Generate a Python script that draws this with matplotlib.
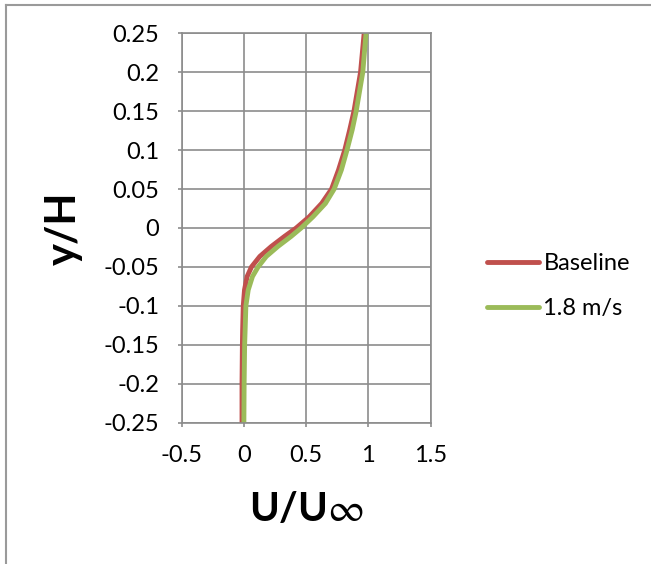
import numpy as np
import matplotlib.pyplot as plt

plt.rcParams['font.family'] = ['Lato', 'DejaVu Sans']
plt.rcParams['mathtext.fontset'] = 'custom'
plt.rcParams['mathtext.rm'] = 'STIXGeneral'
plt.rcParams['mathtext.bf'] = 'Lato:bold'

# velocity profiles
y_base = [-0.25, -0.2, -0.15, -0.131, -0.1, -0.0795, -0.0623, -0.05, -0.0365, -0.0236, -0.0107, 0.0,
          0.0144, 0.0316, 0.05, 0.0745, 0.1, 0.126, 0.15, 0.2, 0.25]
u_base = [-0.015, -0.015, -0.012, -0.01, -0.005, 0.005, 0.026, 0.061, 0.128, 0.221, 0.327, 0.42,
          0.525, 0.625, 0.704, 0.76, 0.81, 0.85, 0.884, 0.937, 0.966]

y_18 = [-0.25, -0.2, -0.15, -0.131, -0.1, -0.0795, -0.0623, -0.05, -0.0365, -0.0236, -0.0107, 0.0,
        0.0144, 0.0316, 0.05, 0.0745, 0.1, 0.126, 0.15, 0.2, 0.25]
u_18 = [0.0, 0.002, 0.006, 0.01, 0.016, 0.035, 0.069, 0.114, 0.18, 0.274, 0.38, 0.46,
        0.555, 0.655, 0.725, 0.783, 0.828, 0.87, 0.902, 0.955, 0.981]

xticks = [-0.5, 0, 0.5, 1, 1.5]
xlabels = ['-0.5', '0', '0.5', '1', '1.5']
yticks = [-0.25, -0.2, -0.15, -0.1, -0.05, 0, 0.05, 0.1, 0.15, 0.2, 0.25]
ylabels = ['-0.25', '-0.2', '-0.15', '-0.1', '-0.05', '0', '0.05', '0.1', '0.15', '0.2', '0.25']

fig = plt.figure(figsize=(6.51, 5.64), dpi=100)
ax = fig.add_axes([0.279, 0.2505, 0.3825, 0.6905])

ax.plot(u_base, y_base, color='#c0504d', lw=3.5, label='Baseline', solid_capstyle='round')
ax.plot(u_18, y_18, color='#9bbb59', lw=3.5, label='1.8 m/s', solid_capstyle='round')

ax.set_xlim(-0.5, 1.5)
ax.set_ylim(-0.25, 0.25)
ax.set_xticks(xticks)
ax.set_xticklabels(xlabels)
ax.set_yticks(yticks)
ax.set_yticklabels(ylabels)
ax.grid(True, color='#8c8c8c', lw=1.2)
ax.set_axisbelow(True)
for s in ax.spines.values():
    s.set_color('#8c8c8c')
    s.set_linewidth(1.2)
ax.tick_params(colors='#8c8c8c', labelcolor='black', labelsize=17, length=3, width=1.2, pad=13)

ax.set_xlabel(r'$\mathbf{U/U}\infty$', fontsize=29, labelpad=18)
ax.set_ylabel('y/H', fontsize=30, fontweight='bold', labelpad=15)

leg = ax.legend(loc='center left', bbox_to_anchor=(1.178, 0.351), frameon=False, fontsize=17,
                borderpad=0, handlelength=2.2, handletextpad=0.2, labelspacing=1.0)

# chart area border (only left/top visible in the original)
fig.add_artist(plt.Line2D([0.0085, 0.0085], [0, 0.992], transform=fig.transFigure, color='#9a9a9a', lw=1.5))
fig.add_artist(plt.Line2D([0.0085, 1], [0.992, 0.992], transform=fig.transFigure, color='#9a9a9a', lw=1.5))

fig.savefig('out.png', dpi=100)
